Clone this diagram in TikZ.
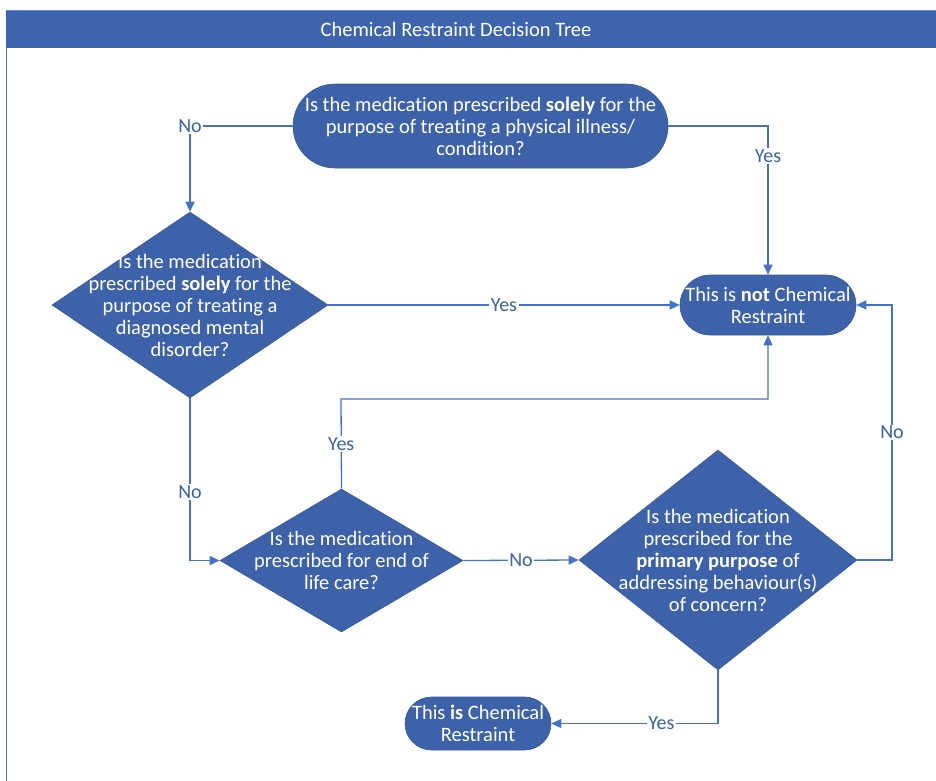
\documentclass[tikz,border=0pt]{standalone}
\usepackage{fontspec}
\setmainfont[Ligatures={NoCommon}]{Carlito}
\usetikzlibrary{arrows.meta,shapes.geometric,shapes.misc}
\definecolor{shapeblue}{HTML}{3D62AA}
\definecolor{linkblue}{HTML}{4472C4}
\definecolor{titleblue}{HTML}{3D64AD}
\begin{document}
\begin{tikzpicture}[x=1pt,y=-1pt,
  every node/.style={font=\fontsize{20.5}{22}\selectfont},
  decision/.style={diamond,fill=shapeblue,draw=shapeblue!90!black,line width=0.6pt,inner sep=0pt,aspect=1},
  terminal/.style={rounded rectangle,fill=shapeblue,draw=shapeblue!90!black,line width=0.6pt,inner sep=0pt},
  qtext/.style={text=white,align=center,inner sep=0pt},
  link/.style={draw=linkblue,line width=1.3pt,-{Triangle[length=10pt,width=9pt]}},
  tag/.style={fill=white,text=linkblue!85!black,inner sep=1.5pt,font=\fontsize{20}{22}\selectfont}]
\useasboundingbox (0,0) rectangle (936,780);
\clip (0,0) rectangle (936,780);

% frame and title bar
\fill[white] (0,0) rectangle (936,780);
\draw[linkblue,line width=1.6pt] (6.5,48) -- (6.5,785);
\fill[titleblue] (6,10) rectangle (945,48);
\draw[linkblue!80!white,line width=0.8pt] (6,10) -- (945,10);
\node[text=white,font=\fontsize{20.5}{22}\selectfont] (title) at (456,29.5) {Chemical Restraint Decision Tree};

% questions
\node[terminal,minimum width=375pt,minimum height=84pt] (q1) at (480.5,126) {};
\node[qtext] at (q1) {Is the medication prescribed \textbf{solely} for the\\purpose of treating a physical illness/\\condition?};

\node[decision,minimum width=276pt,minimum height=186pt] (q2) at (190,305) {};
\node[qtext] at (q2) {Is the medication\\prescribed \textbf{solely} for the\\purpose of treating a\\diagnosed mental\\disorder?};

\node[decision,minimum width=243pt,minimum height=143pt] (q3) at (341.5,560.5) {};
\node[qtext] at (q3) {Is the medication\\prescribed for end of\\life care?};

\node[decision,minimum width=278pt,minimum height=220pt] (q4) at (718,560) {};
\node[qtext] at (q4) {Is the medication\\prescribed for the\\\textbf{primary purpose} of\\addressing behaviour(s)\\of concern?};

% outcomes
\node[terminal,minimum width=176pt,minimum height=60pt] (notcr) at (768,305) {};
\node[qtext] at (notcr) {This is \textbf{not} Chemical\\Restraint};

\node[terminal,minimum width=146pt,minimum height=53pt] (iscr) at (478,723.5) {};
\node[qtext] at (iscr) {This \textbf{is} Chemical\\Restraint};

% connectors
\coordinate (q3up) at (341,399);
\coordinate (q4out) at (892,560);

\draw[link] (q1.west) -| node[tag,pos=0.5] {No} (q2.north);
\draw[link] (q1.east) -| node[tag,pos=0.6] {Yes} (notcr.north);
\draw[link] (q2.east) -- node[tag] {Yes} (notcr.west);
\draw[link] (q2.south) |- node[tag,pos=0.29] {No} (q3.west);
\draw[link] (q3.north) -- node[tag,pos=0.5] {Yes} (q3up) -| (notcr.south);
\draw[link] (q3.east) -- node[tag] {No} (q4.west);
\draw[link] (q4.east) -- (q4out) |- node[tag,pos=0.25] {No} (notcr.east);
\draw[link] (q4.south) |- node[tag,pos=0.67] {Yes} (iscr.east);
\end{tikzpicture}
\end{document}
